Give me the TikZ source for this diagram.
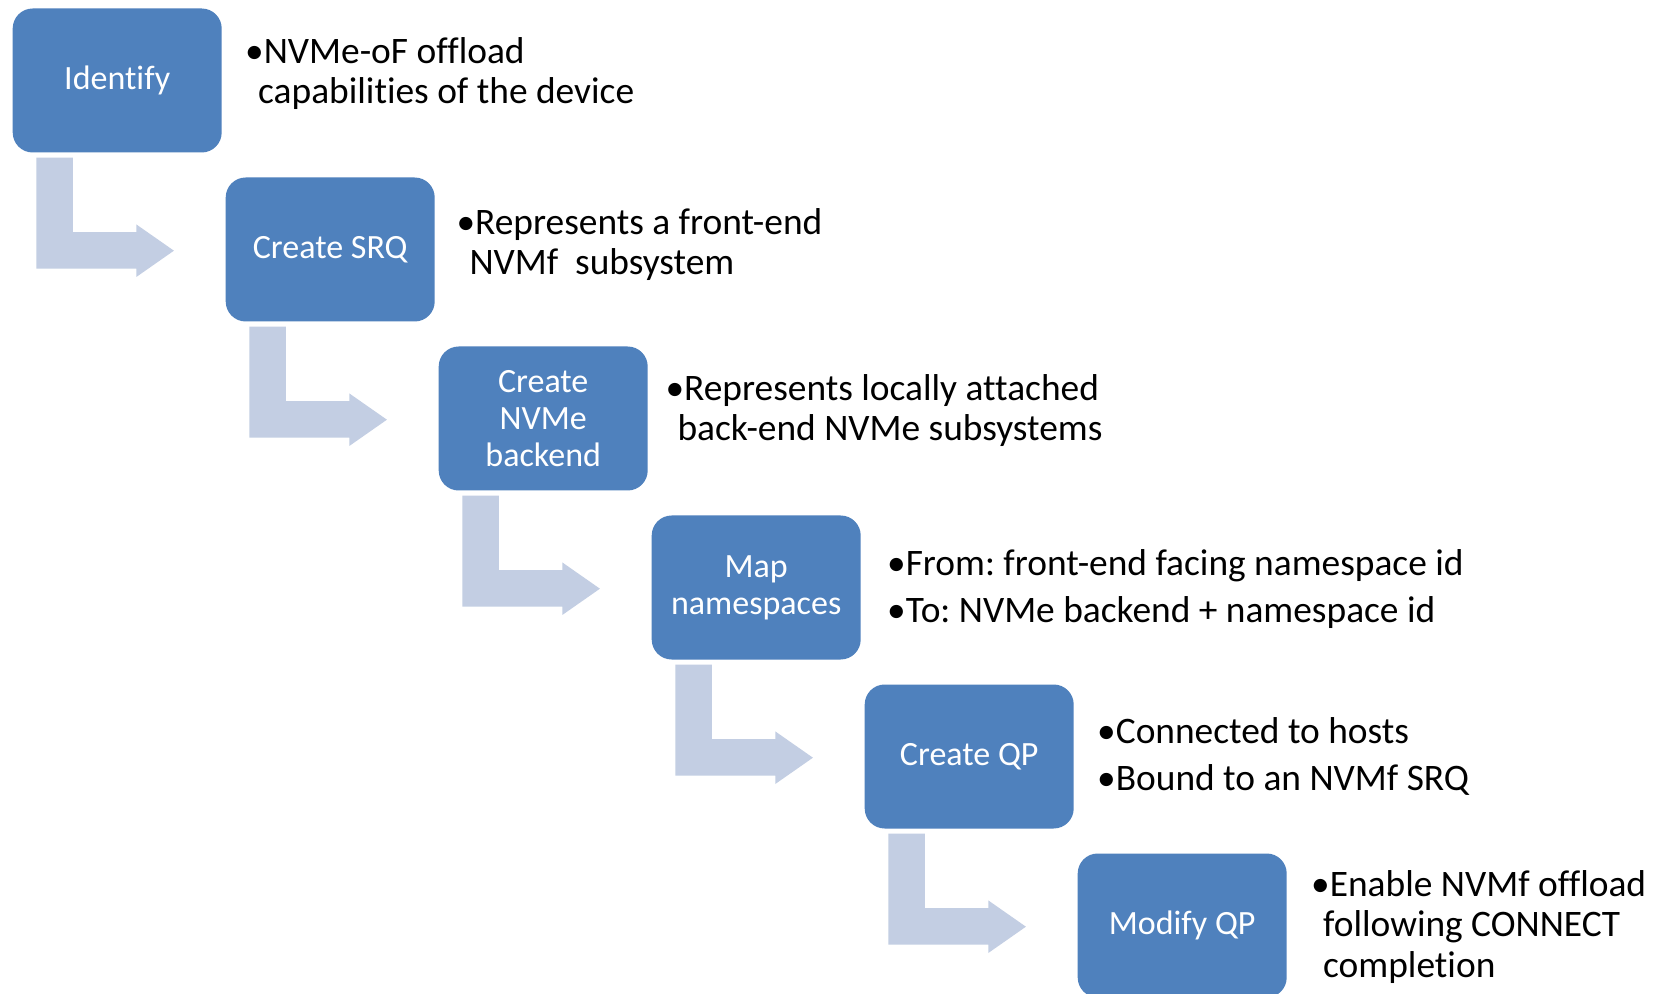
\documentclass[tikz,border=0pt]{standalone}
\usepackage{fontspec}
\setmainfont[Ligatures={NoCommon}]{Carlito}
\usetikzlibrary{calc}
\definecolor{boxblue}{RGB}{79,129,189}
\definecolor{arrowblue}{RGB}{195,206,227}
\frenchspacing
\begin{document}
\begin{tikzpicture}[x=0.5pt,y=-0.5pt,
  stepbox/.style={fill=boxblue, rounded corners=10pt, minimum width=104.5pt, minimum height=72pt, inner sep=0pt, text=white, align=center, font=\fontsize{17}{18.5}\selectfont},
  bullettext/.style={anchor=base west, inner sep=0pt, font=\fontsize{18.7}{20.25}\selectfont},
  bendarrow/.style={fill=arrowblue, draw=none}]
\clip (0,0) rectangle (1661,994);
\fill[white] (0,0) rectangle (1661,994);

\node[stepbox] (b1) at (117.2,80.5) {Identify};
\node[stepbox] (b2) at (330.2,249.5) {Create SRQ};
\node[stepbox] (b3) at (543.2,418.5) {Create\\NVMe\\backend};
\node[stepbox] (b4) at (756.2,587.5) {Map\\namespaces};
\node[stepbox] (b5) at (969.2,756.5) {Create QP};
\node[stepbox] (b6) at (1182.2,925.5) {Modify QP};

\foreach \i in {1,...,5}{
  \fill[bendarrow, shift={(b\i.south west)}]
    (24,4.8) -- (60.6,4.8) -- (60.6,79.2) -- (124,79.2) -- (124,71.5)
    -- (161.6,97.8) -- (124,124.1) -- (124,115.8) -- (24,115.8) -- cycle;
}

\node[bullettext] (t1) at (244.8,63.5) {\begin{tabular}[t]{@{}l@{}}•NVMe-oF offload\\\hspace{6.5pt}capabilities of the device\end{tabular}};
\node[bullettext] (t2) at (456.1,234.1) {\begin{tabular}[t]{@{}l@{}}•Represents a front-end\\\hspace{6.5pt}NVMf\ \ subsystem\end{tabular}};
\node[bullettext] (t3) at (665.1,400.4) {\begin{tabular}[t]{@{}l@{}}•Represents locally attached\\\hspace{6pt}back-end NVMe subsystems\end{tabular}};
\node[bullettext] (t4) at (886.8,575.2) {\begin{tabular}[t]{@{}l@{}}•From: front-end facing namespace id\\[3.2pt]•To: NVMe backend + namespace id\end{tabular}};
\node[bullettext] (t5) at (1096.8,743.6) {\begin{tabular}[t]{@{}l@{}}•Connected to hosts\\[3.2pt]•Bound to an NVMf SRQ\end{tabular}};
\node[bullettext] (t6) at (1310.8,896.1) {\begin{tabular}[t]{@{}l@{}}•Enable NVMf offload\\\hspace{6pt}following CONNECT\\\hspace{6pt}completion\end{tabular}};
\end{tikzpicture}
\end{document}
